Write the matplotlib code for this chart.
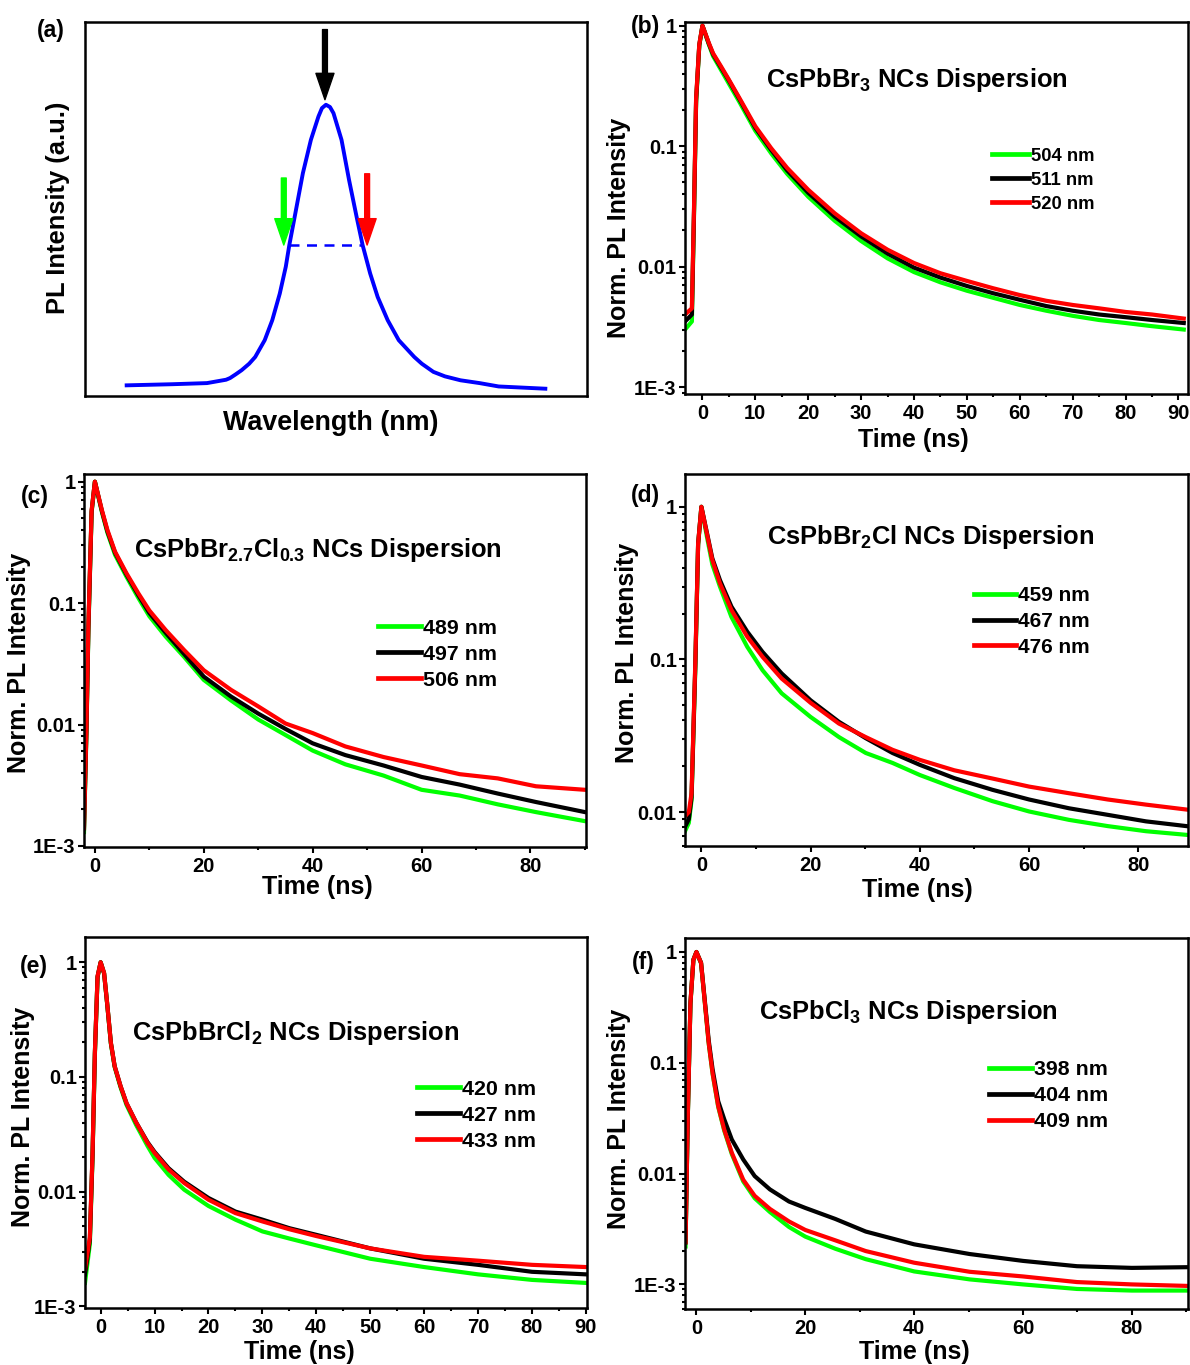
import numpy as np
import matplotlib
matplotlib.use("Agg")
import matplotlib.pyplot as plt
from matplotlib.ticker import FixedLocator, NullFormatter, MultipleLocator, LogLocator

plt.rcParams['font.family'] = ['Liberation Sans', 'DejaVu Sans']
plt.rcParams['font.weight'] = 'bold'
plt.rcParams['axes.labelweight'] = 'bold'
plt.rcParams['mathtext.fontset'] = 'custom'
plt.rcParams['mathtext.rm'] = 'Liberation Sans:bold'
plt.rcParams['mathtext.bf'] = 'Liberation Sans:bold'
plt.rcParams['mathtext.default'] = 'bf'

GREEN = '#00ff00'
BLACK = '#000000'
RED = '#ff0000'

# ---- (a) PL spectrum, arbitrary units ----
wl_a = [8.3, 17.4, 24.3, 28.1, 28.9, 30.0, 31.2, 32.7, 33.9, 35.8, 37.3, 38.8, 40.0, 40.7, 41.9, 43.4, 45.0,
        46.5, 47.2, 48.0, 48.8, 49.5, 51.1, 52.6, 54.1, 55.3, 56.8, 58.3, 60.3, 62.5, 65.6, 67.1, 69.4,
        71.7, 74.8, 78.6, 82.4, 91.7]
pl_a = [0.0, 0.004, 0.008, 0.020, 0.026, 0.039, 0.054, 0.077, 0.101, 0.161, 0.232, 0.327, 0.423, 0.50, 0.613,
        0.756, 0.875, 0.958, 0.988, 1.0, 0.992, 0.970, 0.875, 0.732, 0.601, 0.50, 0.399, 0.315, 0.232, 0.161,
        0.101, 0.077, 0.048, 0.032, 0.018, 0.008, -0.004, -0.012]
peak_a = 47.8
fwhm_lo, fwhm_hi = 40.7, 55.3

# ---- (b) CsPbBr3 ----
t_b = [-3.3, -2.0, -1.6, -1.2, -0.6, 0, 1.2, 2, 3.5, 5, 7, 10, 13, 16, 20, 25, 30, 35, 40, 45,
       50, 55, 60, 65, 70, 75, 80, 85, 91]
b_504 = [0.0030, 0.0035, 0.026, 0.23, 0.68, 1.0, 0.70, 0.56, 0.43, 0.33, 0.232, 0.134, 0.087, 0.059, 0.038,
         0.024, 0.0163, 0.0117, 0.0090, 0.0074, 0.0063, 0.0055, 0.0048, 0.0043, 0.0039, 0.0036, 0.0034, 0.0032, 0.0030]
b_511 = [0.0035, 0.0040, 0.028, 0.24, 0.69, 1.0, 0.71, 0.58, 0.45, 0.35, 0.245, 0.142, 0.093, 0.063, 0.041,
         0.026, 0.0178, 0.0128, 0.0098, 0.0081, 0.0069, 0.0060, 0.0053, 0.0047, 0.0043, 0.0040, 0.0038, 0.0036, 0.0034]
b_520 = [0.0040, 0.0045, 0.030, 0.25, 0.70, 1.0, 0.72, 0.59, 0.46, 0.356, 0.25, 0.146, 0.096, 0.066, 0.0434,
         0.0277, 0.0189, 0.0138, 0.0107, 0.0088, 0.0076, 0.0066, 0.0058, 0.0052, 0.0048, 0.0045, 0.0042, 0.0040, 0.0037]

# ---- (c) CsPbBr2.7Cl0.3 ----
t_c = [-2.0, -1.55, -1.2, -0.6, 0, 1.3, 2.3, 3.7, 5.8, 8, 10, 13, 16.4, 20, 25, 30, 35, 40, 46, 53,
       60, 67, 74, 81, 90]
c_489 = [0.0013, 0.0085, 0.058, 0.56, 1.0, 0.56, 0.38, 0.25, 0.165, 0.11, 0.078, 0.053, 0.036, 0.0233, 0.0158,
         0.011, 0.0082, 0.0061, 0.0047, 0.0038, 0.0029, 0.0026, 0.0022, 0.0019, 0.0016]
c_497 = [0.0014, 0.009, 0.060, 0.57, 1.0, 0.57, 0.39, 0.26, 0.172, 0.116, 0.083, 0.057, 0.038, 0.0248, 0.0170,
         0.0123, 0.0092, 0.0070, 0.0056, 0.0046, 0.0037, 0.0032, 0.0027, 0.0023, 0.0019]
c_506 = [0.0014, 0.0095, 0.064, 0.58, 1.0, 0.58, 0.40, 0.265, 0.176, 0.12, 0.087, 0.060, 0.041, 0.028, 0.0193,
         0.0141, 0.0102, 0.0085, 0.0066, 0.0054, 0.0046, 0.0039, 0.0036, 0.0031, 0.0029]

# ---- (d) CsPbBr2Cl ----
t_d = [-3.0, -2.3, -1.8, -1.1, -0.6, 0, 1.0, 2.0, 3.4, 5.5, 8.4, 11.2, 14.7, 20, 25.2, 30.1, 35, 40, 46.3,
       53.3, 60, 67.3, 74.4, 81.4, 88.8]
d_459 = [0.0075, 0.0085, 0.012, 0.09, 0.56, 1.0, 0.64, 0.42, 0.30, 0.19, 0.121, 0.085, 0.060, 0.042, 0.031,
         0.0244, 0.021, 0.0175, 0.0144, 0.0118, 0.0101, 0.0089, 0.0081, 0.0075, 0.0071]
d_467 = [0.0080, 0.0090, 0.0125, 0.095, 0.57, 1.0, 0.68, 0.46, 0.331, 0.222, 0.152, 0.112, 0.081, 0.054, 0.039,
         0.0305, 0.0244, 0.0204, 0.0167, 0.0140, 0.0121, 0.0106, 0.0096, 0.0087, 0.0081]
d_476 = [0.0094, 0.0100, 0.0133, 0.099, 0.575, 1.0, 0.669, 0.448, 0.315, 0.211, 0.141, 0.104, 0.075, 0.052, 0.038,
         0.031, 0.0256, 0.0220, 0.0188, 0.0166, 0.0147, 0.0133, 0.0121, 0.0112, 0.0104]

# ---- (e) CsPbBrCl2 ----
t_e = [-2.9, -2.0, -1.5, -1.07, -0.57, 0, 0.64, 1.2, 1.9, 2.6, 3.7, 4.8, 6.6, 8.7, 10, 12.6, 15.5, 20, 25,
       30, 35, 40, 50, 60, 70, 80, 90]
e_420 = [0.0016, 0.0035, 0.020, 0.155, 0.74, 1.0, 0.80, 0.44, 0.195, 0.122, 0.081, 0.057, 0.038, 0.025, 0.0197,
         0.0140, 0.0104, 0.0075, 0.0057, 0.0045, 0.0039, 0.0034, 0.0026, 0.0022, 0.0019, 0.0017, 0.0016]
e_427 = [0.0019, 0.0038, 0.021, 0.16, 0.75, 1.0, 0.80, 0.44, 0.198, 0.124, 0.083, 0.059, 0.040, 0.027, 0.0222,
         0.0160, 0.0122, 0.0088, 0.0067, 0.0057, 0.0048, 0.0042, 0.0032, 0.0026, 0.0023, 0.0020, 0.0019]
e_433 = [0.0021, 0.0040, 0.0218, 0.162, 0.755, 1.0, 0.807, 0.442, 0.198, 0.124, 0.083, 0.059, 0.040, 0.0266, 0.0218,
         0.0156, 0.0119, 0.0085, 0.0065, 0.0055, 0.0047, 0.0041, 0.0032, 0.0027, 0.0025, 0.0023, 0.0022]

# ---- (f) CsPbCl3 ----
t_f = [-2.0, -1.6, -1.1, -0.56, 0, 0.85, 1.55, 2.25, 2.96, 4.0, 5.1, 6.5, 8.6, 10.7, 13.5, 17, 20, 25.5,
       31.1, 40, 50.2, 60, 69.9, 80, 90]
f_398 = [0.0022, 0.030, 0.34, 0.85, 1.0, 0.79, 0.345, 0.15, 0.080, 0.040, 0.0245, 0.015, 0.0085, 0.0060, 0.0045,
         0.0033, 0.0027, 0.0021, 0.00169, 0.00131, 0.00111, 0.00100, 0.00091, 0.00088, 0.00088]
f_404 = [0.0024, 0.031, 0.347, 0.85, 1.0, 0.80, 0.36, 0.16, 0.088, 0.045, 0.031, 0.0203, 0.0134, 0.0095, 0.0072,
         0.0056, 0.0049, 0.0039, 0.0030, 0.0023, 0.00188, 0.00163, 0.00146, 0.00141, 0.00143]
f_409 = [0.0024, 0.031, 0.347, 0.85, 1.0, 0.796, 0.347, 0.151, 0.081, 0.0406, 0.025, 0.0154, 0.0088, 0.0063, 0.0048,
         0.0037, 0.0031, 0.0025, 0.0020, 0.00157, 0.00130, 0.00118, 0.00105, 0.00100, 0.00097]

W, H = 1190, 1365
fig = plt.figure(figsize=(W / 100, H / 100), dpi=100)


def box(l, t, r, b):
    return fig.add_axes([l / W, (H - b) / H, (r - l) / W, (b - t) / H])


def style(ax):
    for s in ax.spines.values():
        s.set_linewidth(1.8)
    ax.tick_params(which='both', direction='out', top=False, right=False, width=1.5, labelsize=14.5)
    ax.tick_params(which='major', length=4.5, pad=3)
    ax.tick_params(which='minor', length=2.5)
    ax.tick_params(axis='y', pad=1.5)


def decay_panel(ax, t, series, labels, xlim, ylim, xmajor, xminor, yticks, ylabels,
                title, title_xy, leg_xy, leg_fs, leg_sp, xl_xy, yl_xy):
    colors = [GREEN, BLACK, RED]
    for y, lab, c in zip(series, labels, colors):
        ax.plot(t, y, color=c, lw=3.0, label=lab)
    ax.set_yscale('log')
    ax.set_xlim(*xlim)
    ax.set_ylim(*ylim)
    ax.xaxis.set_major_locator(MultipleLocator(xmajor))
    ax.xaxis.set_minor_locator(MultipleLocator(xminor))
    ax.yaxis.set_major_locator(FixedLocator(yticks))
    ax.set_yticklabels(ylabels)
    ax.yaxis.set_minor_locator(LogLocator(base=10, subs=np.arange(2, 10)))
    ax.yaxis.set_minor_formatter(NullFormatter())
    style(ax)
    ax.set_xlabel('Time (ns)', fontsize=18)
    ax.set_ylabel('Norm. PL Intensity', fontsize=18)
    ax.xaxis.set_label_coords(*xl_xy)
    ax.xaxis.label.set_va('center')
    ax.yaxis.set_label_coords(*yl_xy)
    ax.yaxis.label.set_va('center')
    ax.text(title_xy[0], title_xy[1], title, transform=ax.transAxes, fontsize=18.4,
            ha='left', va='center')
    leg = ax.legend(loc='upper left', bbox_to_anchor=leg_xy, frameon=False, fontsize=leg_fs,
                    handlelength=2.0, handletextpad=0.1, labelspacing=leg_sp,
                    borderpad=0, borderaxespad=0)
    for h in leg.get_lines():
        h.set_linewidth(3.4)


# (a)
ax = box(85, 22, 587, 396)
ax.plot(wl_a, pl_a, color='#0000ff', lw=2.8)
ax.plot([fwhm_lo, fwhm_hi], [0.5, 0.5], color='#0000ff', lw=1.8, ls=(0, (4, 3)))
for x0, y0, y1, c in [(peak_a, 1.268, 1.018, BLACK), (39.6, 0.739, 0.50, GREEN), (56.2, 0.754, 0.50, RED)]:
    ax.annotate('', xy=(x0, y1), xytext=(x0, y0),
                arrowprops=dict(facecolor=c, edgecolor=c, width=3.5, headwidth=13, headlength=19, shrink=0))
ax.set_xlim(0, 100)
ax.set_ylim(-0.038, 1.295)
ax.set_xticks([])
ax.set_yticks([])
for s in ax.spines.values():
    s.set_linewidth(1.8)
ax.set_xlabel('Wavelength (nm)', fontsize=19.4)
ax.set_ylabel('PL Intensity (a.u.)', fontsize=18.4)
ax.xaxis.set_label_coords(0.49, -0.072)
ax.xaxis.label.set_va('center')
ax.yaxis.set_label_coords(-0.054, 0.503)
ax.yaxis.label.set_va('center')

# (b)
ax = box(685, 22, 1188, 394)
decay_panel(ax, t_b, [b_504, b_511, b_520], ['504 nm', '511 nm', '520 nm'],
            (-3.3, 91.8), (8.75e-4, 1.073), 10, 5, [1e-3, 1e-2, 1e-1, 1],
            ['1E-3', '0.01', '0.1', '1'], r'CsPbBr$_{3}$ NCs Dispersion', (0.161, 0.844),
            (0.61, 0.662), 13.3, 0.38, (0.455, -0.124), (-0.131, 0.446))

# (c)
ax = box(84, 474, 586, 847)
decay_panel(ax, t_c, [c_489, c_497, c_506], ['489 nm', '497 nm', '506 nm'],
            (-2.0, 90.2), (9.8e-4, 1.157), 20, 10, [1e-3, 1e-2, 1e-1, 1],
            ['1E-3', '0.01', '0.1', '1'], r'CsPbBr$_{2.7}$Cl$_{0.3}$ NCs Dispersion', (0.10, 0.796),
            (0.586, 0.612), 15.4, 0.33, (0.464, -0.107), (-0.129, 0.493))

# (d)
ax = box(685, 474, 1188, 846)
decay_panel(ax, t_d, [d_459, d_467, d_476], ['459 nm', '467 nm', '476 nm'],
            (-3.0, 89.1), (6.0e-3, 1.64), 20, 10, [1e-2, 1e-1, 1],
            ['0.01', '0.1', '1'], r'CsPbBr$_{2}$Cl NCs Dispersion', (0.163, 0.831),
            (0.575, 0.699), 15.0, 0.33, (0.461, -0.118), (-0.116, 0.52))

# (e)
ax = box(85, 937, 587, 1308)
decay_panel(ax, t_e, [e_420, e_427, e_433], ['420 nm', '427 nm', '433 nm'],
            (-2.9, 90.2), (9.67e-4, 1.66), 10, 5, [1e-3, 1e-2, 1e-1, 1],
            ['1E-3', '0.01', '0.1', '1'], r'CsPbBrCl$_{2}$ NCs Dispersion', (0.094, 0.741),
            (0.661, 0.615), 15.4, 0.33, (0.428, -0.119), (-0.124, 0.515))

# (f)
ax = box(685, 938, 1188, 1309)
decay_panel(ax, t_f, [f_398, f_404, f_409], ['398 nm', '404 nm', '409 nm'],
            (-2.1, 90.3), (6.0e-4, 1.337), 20, 10, [1e-3, 1e-2, 1e-1, 1],
            ['1E-3', '0.01', '0.1', '1'], r'CsPbCl$_{3}$ NCs Dispersion', (0.147, 0.80),
            (0.604, 0.671), 15.4, 0.33, (0.457, -0.116), (-0.131, 0.512))

# panel letters
for lab, x, y in [('(a)', 51, 30), ('(b)', 646, 27), ('(c)', 35, 497),
                  ('(d)', 645, 495), ('(e)', 34, 967), ('(f)', 643, 962)]:
    fig.text(x / W, 1 - y / H, lab, fontsize=16.5, ha='center', va='center')

fig.savefig('out.png', dpi=100)
